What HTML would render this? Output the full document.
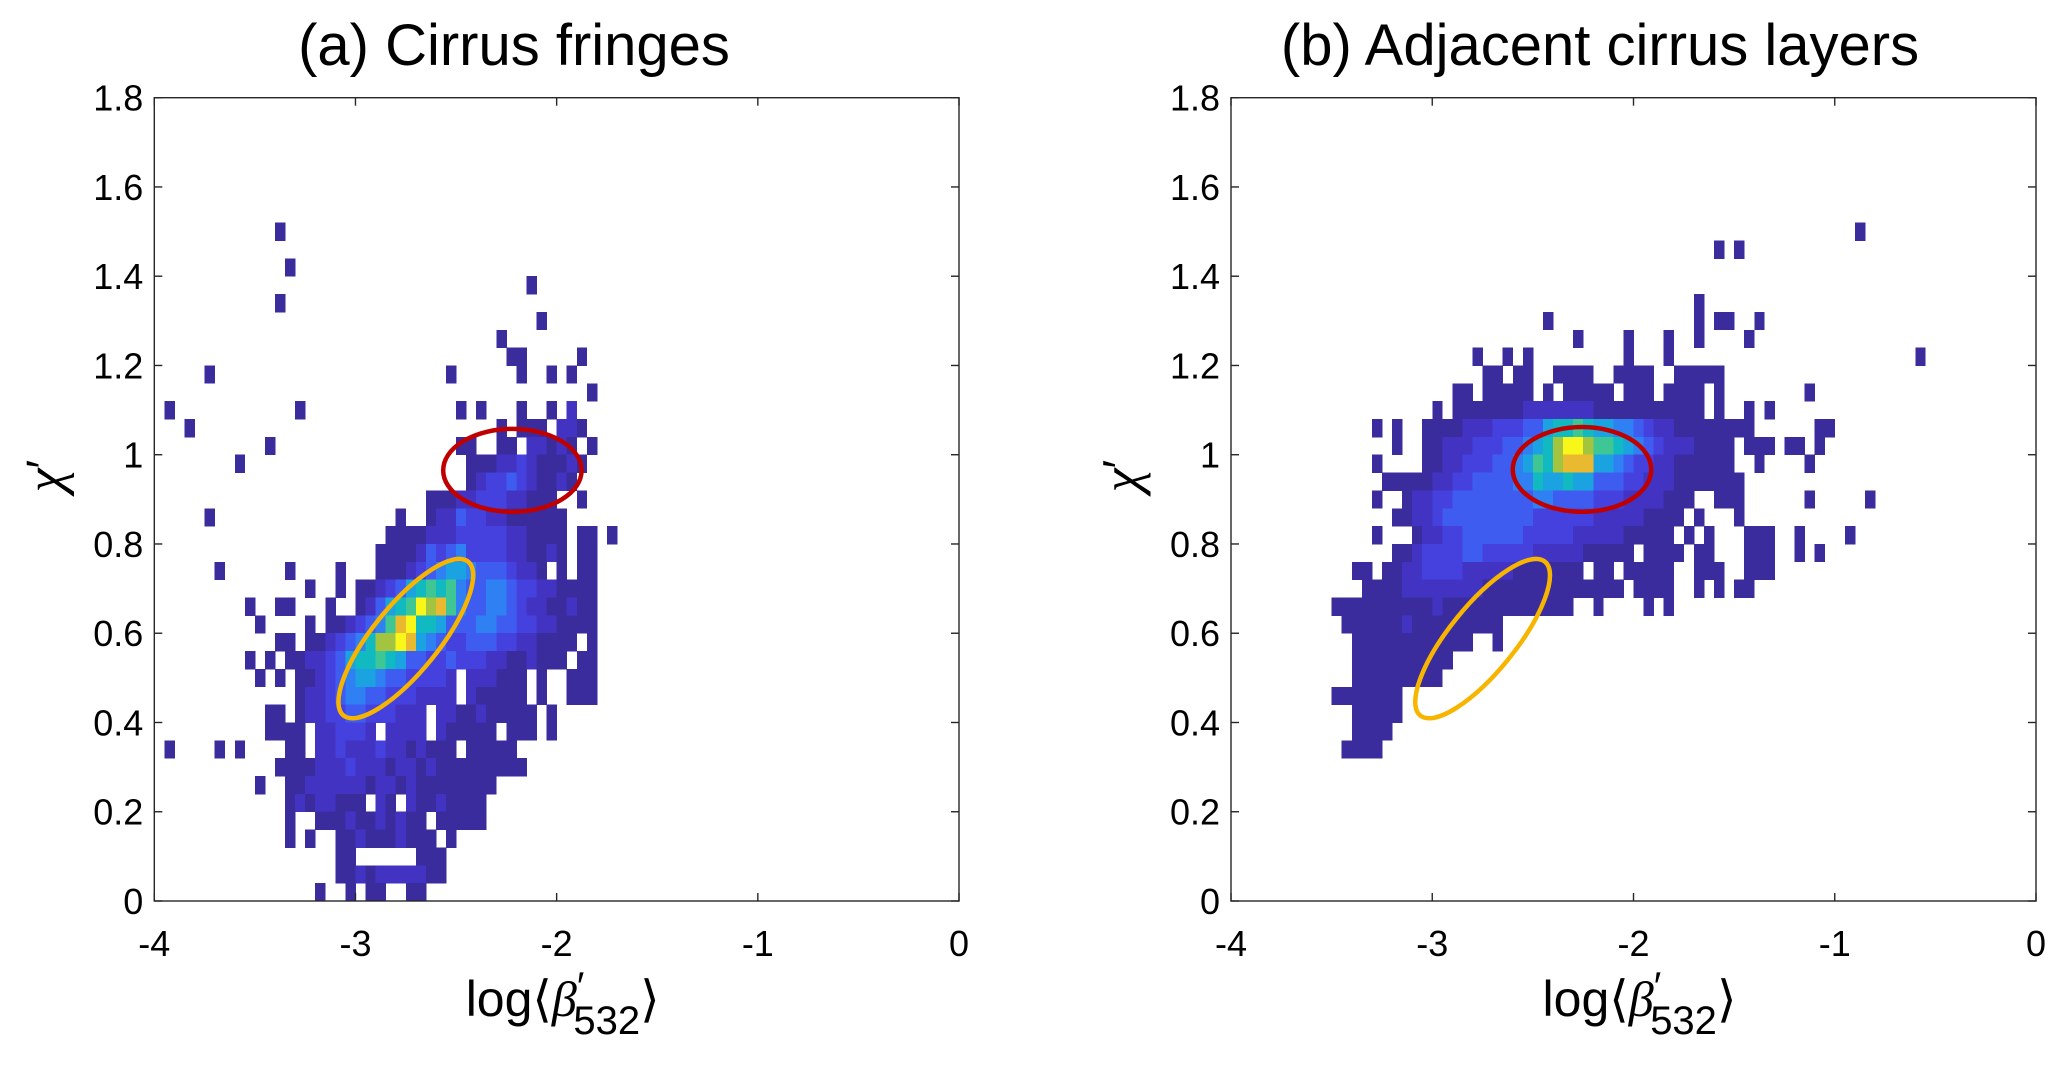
<!DOCTYPE html>
<html>
<head>
<meta charset="utf-8">
<style>
  html, body { margin: 0; padding: 0; background: #ffffff; }
  svg { display: block; }
  text { font-family: "Liberation Sans", Arial, sans-serif; fill: #000; }
</style>
</head>
<body>
<svg id="fig" width="2067" height="1066" viewBox="0 0 2067 1066" xmlns="http://www.w3.org/2000/svg"></svg>
<script>
// ---- data ----
const xTicks = [-4, -3, -2, -1, 0];
const xTickLabels = ["-4", "-3", "-2", "-1", "0"];
const yTicks = [0, 0.2, 0.4, 0.6, 0.8, 1.0, 1.2, 1.4, 1.6, 1.8];
const yTickLabels = ["0", "0.2", "0.4", "0.6", "0.8", "1", "1.2", "1.4", "1.6", "1.8"];
const binX = 0.05;
const binY = 0.04;
const levelColors = {"1":"#3b2c9e","2":"#4233c2","3":"#4541df","4":"#3e5df0","5":"#2f80f2","6":"#1aa3e0","7":"#10bac0","8":"#3ec795","9":"#a3c43f","a":"#e9ba30","b":"#f9f71a"};
// panel (a) rows: [rowIndex, startColumn, levels]
const cellsA = [
 [37,12,"1"],[35,13,"1"],[34,37,"1"],[33,12,"1"],[32,38,"1"],[31,34,"1"],
 [30,35,"11.....1"],
 [29,5,"1"],[29,29,"1......1..1.1"],
 [28,43,"1"],
 [27,1,"1"],[27,14,"1"],[27,30,"1.1...1..1.2"],
 [26,3,"1"],[26,34,"1.111.221"],
 [25,11,"1"],[25,30,"11..11.22121.1"],
 [24,8,"1"],[24,31,"111223211121"],
 [23,31,"12334321121"],
 [22,27,"1112233322111..1"],
 [21,5,"1"],[21,24,"1..12243322111111"],
 [20,23,"111122233333221111.11.1"],
 [19,22,"1111243453333221121.11"],
 [18,6,"1"],[18,13,"1"],[18,18,"1"],[18,22,"11123456654443221.1.11"],
 [17,15,"1"],[17,18,"1"],[17,20,"112346787854455433221111"],
 [16,9,"1..11"],[16,17,"1"],[16,20,"124678b9a854455432211211"],
 [15,10,"1"],[15,15,"1.1123458ab776444554433221111"],
 [14,12,"11.112345799ba6543344433221111.1"],
 [13,9,"1.1"],[13,13,"1122346778764433433322112111.11"],
 [12,10,"1.1"],[12,14,"1123456654433332.222111.1..111"],
 [11,14,"1223455443332222.211111.1..111"],
 [10,11,"11.1223344333222.2211211111"],[10,39,"1"],
 [9,11,"1111.223332.2222.211111.111"],[9,39,"1"],
 [8,1,"1"],[8,6,"1.1"],[8,13,"11.22322232212111.11111"],
 [7,12,"1111222322212212111111111"],
 [6,10,"1"],[6,13,"112222221221211111111"],
 [5,13,"12122111.21.21121111"],
 [4,13,"1..11121121211.11111"],
 [3,13,"1.1..1121112111.1"],
 [2,18,"11......111"],
 [1,18,"11212222211"],
 [0,16,"1..1.11..11"]
];
// panel (b) rows
const cellsB = [
 [37,62,"1"],[36,48,"1.1"],[33,46,"1"],
 [32,31,"1"],[32,46,"1.11..1"],
 [31,34,"1"],[31,39,"1"],[31,43,"1"],[31,46,"1"],[31,51,"1"],
 [30,24,"1..1.1"],[30,39,"1"],[30,43,"1"],[30,68,"1"],
 [29,25,"11.11"],[29,32,"1111"],[29,38,"1111"],[29,44,"11111"],
 [28,22,"11.11111.1.11111.111.1111.1"],[28,57,"1"],
 [27,20,"1.1111111222222211111111111.1..1.1"],
 [26,14,"1.1..111122233344677876655432211111111"],[26,58,"11"],
 [25,16,"1..11222333445679bb988765432221111.111.11.1"],
 [24,14,"1....11223334456879aaa66543322111111..1....1"],
 [23,15,"111112233444455766766444332221111111"],
 [22,14,"1..12233444444445544443332222111..111"],[22,57,"1"],[22,63,"1"],
 [21,16,"11223444444444333333222221111.1...1"],
 [20,14,"1...12233444444333332222211111.1.1...111..1....1"],
 [19,16,"112333344333332222211111.1111.11"],
 [19,51,"111..1.1"],
 [18,12,"11.11223333222221111111.11.11111..111..111"],
 [17,13,"11112222222211111111111111.1111..1.1.11"],
 [16,10,"111111111121111111111111..1....1.1"],
 [15,11,"1111112111111111"],
 [14,12,"111111111111"],[14,26,"1"],
 [13,12,"1111111111"],
 [12,12,"111111111"],
 [11,10,"1111111"],
 [10,12,"11111"],
 [9,12,"1111"],
 [8,11,"1111"]
];
// annotation ellipses (data units): [cx, cy, rx(data), ry(data)]
const redA = [-2.22, 0.965, 0.344, 0.093];
const redB = [-2.256, 0.967, 0.344, 0.095];
const goldA = [-2.75, 0.588];
const goldB = [-2.75, 0.588];

// ---- layout ----
const NS = "http://www.w3.org/2000/svg";
const svg = document.getElementById("fig");
const panels = [
  {key:"a", left:154.3, right:959, top:97.7, bottom:901, cells:cellsA, red:redA, gold:goldA, title:"(a)  Cirrus fringes", titleX:514},
  {key:"b", left:1231, right:2036, top:97.7, bottom:901, cells:cellsB, red:redB, gold:goldB, title:"(b) Adjacent cirrus layers", titleX:1600}
];
function mk(tag, attrs, parent) {
  const el = document.createElementNS(NS, tag);
  for (const k in attrs) el.setAttribute(k, attrs[k]);
  (parent || svg).appendChild(el);
  return el;
}
panels.forEach(p => {
  const xs = v => p.left + (v - (-4)) / 4 * (p.right - p.left);
  const ys = v => p.bottom - v / 1.8 * (p.bottom - p.top);
  const g = mk("g", {});
  
  

  const cg = mk("g", {"shape-rendering":"crispEdges"}, g);
  
  
  p.cells.forEach(r => {
    const j = r[0], s = r[1], str = r[2];
    for (let k = 0; k < str.length; k++) {
      const ch = str[k];
      if (!levelColors[ch]) continue;
      const x0 = xs(-4 + binX * (s + k)), x1 = xs(-4 + binX * (s + k + 1));
      const y0 = ys(binY * (j + 1)), y1 = ys(binY * j);
      const rect = mk("rect", {x:x0.toFixed(2), y:y0.toFixed(2), width:(x1-x0+0.4).toFixed(2), height:(y1-y0+0.4).toFixed(2), fill:levelColors[ch]}, cg);
      
      
    }
  });

  const box = mk("rect", {x:p.left, y:p.top, width:p.right-p.left, height:p.bottom-p.top, fill:"none", stroke:"#262626", "stroke-width":1.4}, g);
  
  

  xTicks.forEach((t, i) => {
    const x = xs(t);
    mk("line", {x1:x, y1:p.bottom, x2:x, y2:p.bottom-8, stroke:"#262626", "stroke-width":1.4}, g);
    mk("line", {x1:x, y1:p.top, x2:x, y2:p.top+8, stroke:"#262626", "stroke-width":1.4}, g);
    const tx = mk("text", {x:x, y:956, "font-size":36, "text-anchor":"middle"}, g);
    tx.textContent = xTickLabels[i];
    
    
  });
  yTicks.forEach((t, i) => {
    const y = ys(t);
    mk("line", {x1:p.left, y1:y, x2:p.left+8, y2:y, stroke:"#262626", "stroke-width":1.4}, g);
    mk("line", {x1:p.right, y1:y, x2:p.right-8, y2:y, stroke:"#262626", "stroke-width":1.4}, g);
    const ty = mk("text", {x:p.left-11, y:y+13, "font-size":36, "text-anchor":"end"}, g);
    ty.textContent = yTickLabels[i];
    
    
  });

  const re = mk("ellipse", {cx:xs(p.red[0]), cy:ys(p.red[1]), rx:p.red[2]*(p.right-p.left)/4, ry:p.red[3]*(p.bottom-p.top)/1.8, fill:"none", stroke:"#c00000", "stroke-width":4.5}, g);
  
  
  const ge = mk("ellipse", {cx:0, cy:0, rx:99, ry:33, fill:"none", stroke:"#f7b500", "stroke-width":4.5,
    transform:"translate(" + xs(p.gold[0]).toFixed(1) + "," + ys(p.gold[1]).toFixed(1) + ") rotate(-51)"}, g);
  
  

  const tt = mk("text", {x:p.titleX, y:65, "font-size":58, "text-anchor":"middle"}, g);
  tt.textContent = p.title;
  
  

  const cx = (p.left + p.right) / 2;
  const xl = mk("text", {x:cx+6, y:1016, "font-size":50, "text-anchor":"middle"}, g);
  
  
  xl.innerHTML = 'log⟨<tspan font-family="Liberation Serif, serif" font-style="italic">β</tspan><tspan font-size="40" dy="-16">′</tspan><tspan font-size="40" dy="34" dx="-11">532</tspan><tspan dy="-18">⟩</tspan>';

  const yl = mk("text", {x:0, y:0, "font-size":54, "text-anchor":"middle", transform:"translate(" + (p.left-92) + ",476) rotate(-90)"}, g);
  
  
  yl.innerHTML = '<tspan font-family="Liberation Serif, serif" font-style="italic">χ</tspan><tspan font-size="46" dy="-4">′</tspan>';
});
</script>
</body>
</html>
